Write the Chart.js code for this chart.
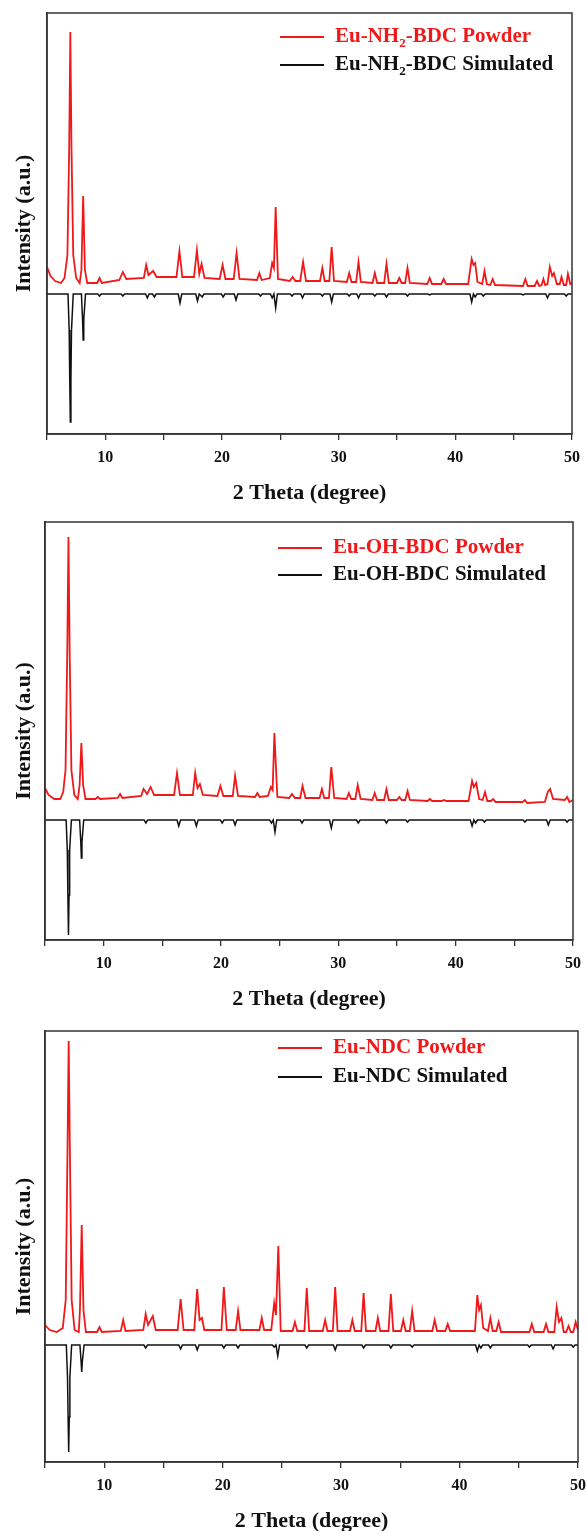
<!DOCTYPE html>
<html>
<head>
<meta charset="utf-8">
<script src="https://cdn.jsdelivr.net/npm/chart.js@4.4.0/dist/chart.umd.min.js"></script>
<style>
html, body { margin: 0; padding: 0; background: #fff; overflow: hidden; width: 587px; height: 1531px; }
.panel { position: absolute; left: 0; width: 587px; }
</style>
</head>
<body>
<div class="panel" style="top:0px"><canvas id="c1" width="587" height="510"></canvas></div>
<div class="panel" style="top:510px"><canvas id="c2" width="587" height="506"></canvas></div>
<div class="panel" style="top:1016px"><canvas id="c3" width="587" height="522"></canvas></div>
<script>
// x axis labels (2 theta, degree)
const xTickLabels = [10, 20, 30, 40, 50];

// Eu-NH2-BDC
const nh2PowderTheta = [5.0, 5.3, 5.7, 6.2, 6.5, 6.75, 6.9, 7.0, 7.1, 7.25, 7.5, 7.8, 7.95, 8.1, 8.25, 8.45,
  9.3, 9.5, 9.7, 11.2, 11.5, 11.8, 13.3, 13.5, 13.7, 14.1, 14.4, 16.1, 16.35, 16.6,
  17.6, 17.85, 18.05, 18.25, 18.5, 19.8, 20.05, 20.3, 21.0, 21.25, 21.5, 23.0, 23.2, 23.4,
  24.1, 24.3, 24.45, 24.6, 24.8, 25.8, 26.05, 26.3, 26.7, 26.95, 27.2, 28.4, 28.6, 28.8,
  29.2, 29.4, 29.6, 30.7, 30.9, 31.1, 31.5, 31.7, 31.9, 32.9, 33.1, 33.3, 33.9, 34.1, 34.3,
  35.0, 35.2, 35.4, 35.7, 35.9, 36.1, 37.6, 37.8, 38.0, 38.8, 39.0, 39.2,
  41.1, 41.4, 41.55, 41.7, 41.9, 42.3, 42.5, 42.7, 43.0, 43.2, 43.4, 45.8, 46.0, 46.2,
  46.8, 47.0, 47.2, 47.4, 47.55, 47.7, 47.9, 48.1, 48.3, 48.45, 48.7, 48.95, 49.1, 49.3,
  49.5, 49.65, 49.85, 50.0];
const nh2PowderInt = [167, 158, 153, 151, 156, 179, 284, 402, 284, 179, 156, 151, 164, 238, 164, 151,
  151, 156, 151, 154, 162, 155, 156, 169, 159, 163, 157, 157, 183, 157,
  157, 184, 160, 170, 156, 155, 169, 155, 155, 181, 155, 154, 161, 154,
  156, 171, 166, 227, 155, 153, 157, 153, 153, 172, 153, 153, 166, 153,
  153, 187, 153, 152, 161, 152, 152, 172, 152, 151, 161, 151, 151, 170, 151,
  151, 156, 151, 151, 166, 151, 150, 156, 150, 150, 155, 150,
  150, 175, 169, 171, 152, 150, 163, 150, 149, 155, 149, 148, 155, 148,
  148, 153, 148, 149, 155, 149, 150, 167, 158, 161, 150, 150, 157, 149,
  149, 160, 150, 151];
const nh2SimTheta = [5.0, 6.8, 6.9, 6.95, 7.0, 7.05, 7.1, 7.25, 7.95, 8.05, 8.1, 8.15, 8.3,
  9.35, 9.5, 9.65, 11.35, 11.5, 11.65, 13.45, 13.6, 13.75, 14.05, 14.2, 14.35,
  16.25, 16.4, 16.55, 17.75, 17.9, 18.05, 18.3, 18.45, 19.95, 20.1, 20.25, 21.05, 21.2, 21.35,
  23.15, 23.3, 23.45, 24.15, 24.3, 24.45, 24.6, 24.75, 25.85, 26.0, 26.15, 26.75, 26.9, 27.05,
  28.45, 28.6, 28.75, 29.25, 29.4, 29.55, 30.75, 30.9, 31.05, 31.55, 31.7, 31.85,
  32.95, 33.1, 33.25, 33.95, 34.1, 34.25, 35.75, 35.9, 36.05, 37.65, 37.8, 37.95,
  41.25, 41.4, 41.55, 41.7, 41.85, 42.25, 42.4, 42.55, 45.65, 45.8, 45.95,
  47.75, 47.9, 48.05, 49.35, 49.5, 49.65, 50.0];
const nh2SimInt = [140, 140, 104, 54, 12, 54, 104, 140, 140, 114, 94, 114, 140,
  140, 138, 140, 140, 138, 140, 140, 136, 140, 140, 137, 140,
  140, 131, 140, 140, 133, 140, 137, 140, 140, 137, 140, 140, 134, 140,
  140, 138, 140, 140, 136, 140, 126, 140, 140, 138, 140, 140, 136, 140,
  140, 138, 140, 140, 132, 140, 140, 138, 140, 140, 136, 140,
  140, 138, 140, 140, 137, 140, 140, 138, 140, 140, 139, 140,
  140, 132, 140, 137, 140, 140, 138, 140, 140, 139, 140,
  140, 136, 140, 140, 138, 140, 140];

// Eu-OH-BDC
const ohPowderTheta = [5.0, 5.3, 5.8, 6.3, 6.55, 6.75, 6.9, 7.0, 7.1, 7.25, 7.5, 7.8, 7.95, 8.1, 8.25, 8.45,
  9.3, 9.5, 9.7, 11.2, 11.4, 11.6, 13.2, 13.4, 13.7, 14.0, 14.3, 16.0, 16.25, 16.5,
  17.6, 17.8, 18.0, 18.2, 18.45, 19.7, 19.95, 20.2, 21.0, 21.2, 21.45, 22.9, 23.1, 23.3,
  24.0, 24.25, 24.4, 24.55, 24.8, 25.8, 26.05, 26.3, 26.75, 26.95, 27.2, 28.4, 28.6, 28.8,
  29.2, 29.4, 29.65, 30.7, 30.9, 31.1, 31.45, 31.65, 31.9, 32.9, 33.1, 33.3, 33.9, 34.1, 34.3,
  35.0, 35.2, 35.4, 35.7, 35.9, 36.1, 37.6, 37.8, 38.0, 38.8, 39.0, 39.2,
  41.1, 41.4, 41.55, 41.75, 42.0, 42.3, 42.5, 42.7, 43.0, 43.2, 43.4, 45.7, 45.9, 46.1,
  47.6, 47.85, 48.05, 48.3, 49.3, 49.5, 49.7, 50.0];
const ohPowderInt = [152, 145, 141, 141, 148, 170, 290, 403, 290, 170, 145, 141, 155, 197, 155, 141,
  141, 143, 141, 142, 146, 142, 144, 151, 146, 153, 145, 145, 167, 145,
  145, 167, 152, 156, 145, 144, 154, 144, 144, 164, 144, 143, 147, 143,
  144, 153, 150, 207, 143, 142, 146, 142, 142, 154, 142, 142, 151, 142,
  142, 173, 142, 141, 147, 141, 141, 155, 141, 140, 147, 140, 140, 151, 140,
  140, 143, 140, 140, 149, 140, 139, 141, 139, 139, 140, 139,
  139, 159, 153, 157, 141, 140, 148, 139, 139, 141, 138, 138, 140, 137,
  138, 148, 151, 141, 140, 143, 138, 140];
const ohSimTheta = [5.0, 6.8, 6.9, 6.95, 7.0, 7.05, 7.1, 7.25, 7.95, 8.05, 8.1, 8.15, 8.3,
  13.45, 13.6, 13.75, 16.25, 16.4, 16.55, 17.75, 17.9, 18.05, 19.95, 20.1, 20.25,
  21.05, 21.2, 21.35, 24.15, 24.3, 24.45, 24.6, 24.75, 26.75, 26.9, 27.05,
  29.25, 29.4, 29.55, 31.55, 31.7, 31.85, 33.95, 34.1, 34.25, 35.75, 35.9, 36.05,
  41.25, 41.4, 41.55, 41.7, 41.85, 42.3, 42.45, 42.6, 45.75, 45.9, 46.05,
  47.75, 47.9, 48.05, 49.35, 49.5, 49.65, 50.0];
const ohSimInt = [120, 120, 90, 45, 5, 45, 90, 120, 120, 98, 82, 98, 120,
  120, 117, 120, 120, 114, 120, 120, 114, 120, 120, 117, 120,
  120, 115, 120, 120, 117, 120, 108, 120, 120, 117, 120,
  120, 112, 120, 120, 117, 120, 120, 117, 120, 120, 118, 120,
  120, 114, 120, 117, 120, 120, 118, 120, 120, 118, 120,
  120, 115, 120, 120, 118, 120, 120];

// Eu-NDC
const ndcPowderTheta = [5.0, 5.4, 6.0, 6.5, 6.75, 6.9, 7.0, 7.1, 7.25, 7.5, 7.85, 7.95, 8.1, 8.25, 8.45,
  9.4, 9.6, 9.8, 11.4, 11.6, 11.8, 13.3, 13.5, 13.7, 14.1, 14.35, 16.2, 16.45, 16.7,
  17.6, 17.85, 18.05, 18.25, 18.45, 19.9, 20.1, 20.35, 21.1, 21.3, 21.5, 23.1, 23.3, 23.5,
  24.1, 24.35, 24.5, 24.7, 24.9, 25.9, 26.1, 26.3, 26.9, 27.1, 27.3, 28.45, 28.65, 28.85,
  29.3, 29.5, 29.7, 30.75, 30.95, 31.15, 31.7, 31.9, 32.1, 32.9, 33.1, 33.3, 34.0, 34.2, 34.4,
  35.05, 35.25, 35.45, 35.8, 36.0, 36.2, 37.7, 37.9, 38.1, 38.8, 39.0, 39.2,
  41.3, 41.5, 41.65, 41.8, 42.0, 42.4, 42.6, 42.8, 43.1, 43.3, 43.5, 45.9, 46.1, 46.3,
  47.1, 47.3, 47.5, 48.0, 48.2, 48.4, 48.6, 48.8, 49.0, 49.2, 49.4, 49.6, 49.8, 50.0];
const ndcPowderInt = [137, 132, 130, 134, 162, 312, 421, 312, 162, 132, 130, 152, 237, 152, 130,
  130, 135, 130, 131, 142, 131, 132, 148, 137, 146, 132, 132, 163, 132,
  132, 173, 142, 144, 132, 132, 175, 132, 132, 151, 132, 132, 144, 132,
  132, 159, 147, 216, 131, 131, 140, 131, 131, 174, 131, 131, 142, 131,
  131, 175, 131, 131, 142, 131, 131, 169, 131, 131, 144, 131, 131, 168, 131,
  131, 142, 131, 131, 151, 131, 131, 142, 131, 131, 138, 131,
  131, 167, 152, 157, 134, 131, 144, 131, 131, 140, 130, 130, 138, 130,
  130, 138, 130, 130, 155, 140, 144, 130, 130, 136, 130, 130, 140, 132];
const ndcSimTheta = [5.0, 6.8, 6.9, 6.95, 7.0, 7.05, 7.1, 7.25, 7.95, 8.05, 8.1, 8.15, 8.3,
  13.35, 13.5, 13.65, 16.3, 16.45, 16.6, 17.7, 17.85, 18.0, 19.95, 20.1, 20.25,
  21.15, 21.3, 21.45, 24.2, 24.35, 24.5, 24.65, 24.8, 26.95, 27.1, 27.25,
  29.35, 29.5, 29.65, 31.75, 31.9, 32.05, 34.05, 34.2, 34.35, 35.85, 36.0, 36.15,
  41.35, 41.5, 41.65, 41.8, 41.95, 42.45, 42.6, 42.75, 45.75, 45.9, 46.05,
  47.75, 47.9, 48.05, 49.45, 49.6, 49.75, 50.0];
const ndcSimInt = [117, 117, 85, 45, 10, 45, 85, 117, 117, 100, 90, 100, 117,
  117, 114, 117, 117, 113, 117, 117, 112, 117, 117, 114, 117,
  117, 114, 117, 117, 115, 117, 106, 117, 117, 114, 117,
  117, 112, 117, 117, 114, 117, 117, 114, 117, 117, 115, 117,
  117, 111, 117, 114, 117, 117, 114, 117, 117, 115, 117,
  117, 113, 117, 117, 115, 117, 117];

const serif = '"Liberation Serif", "Times New Roman", serif';
const red = '#f01818';
const ink = '#111';

function zip(xs, ys) {
  return xs.map((x, i) => ({ x: x, y: ys[i] }));
}

// draw text, turning "₂" into a real lowered subscript
function drawLabel(ctx, text, x, y, size) {
  const parts = text.split('₂');
  let cx = x;
  parts.forEach((p, i) => {
    ctx.font = 'bold ' + size + 'px ' + serif;
    ctx.fillText(p, cx, y);
    cx += ctx.measureText(p).width;
    if (i < parts.length - 1) {
      ctx.font = 'bold ' + Math.round(size * 0.62) + 'px ' + serif;
      ctx.fillText('2', cx, y + size * 0.3);
      cx += ctx.measureText('2').width;
    }
  });
}

const framePlugin = {
  id: 'frame',
  afterDraw(chart) {
    const a = chart.chartArea;
    const ctx = chart.ctx;
    ctx.save();
    ctx.strokeStyle = '#333';
    ctx.lineWidth = 1.5;
    ctx.strokeRect(a.left, a.top, a.right - a.left, a.bottom - a.top);
    ctx.restore();
  }
};

const xrdLegend = {
  id: 'xrdLegend',
  afterDraw(chart, args, opts) {
    const a = chart.chartArea;
    const ctx = chart.ctx;
    ctx.save();
    ctx.textBaseline = 'middle';
    chart.data.datasets.forEach((ds, i) => {
      const y = a.top + opts.rows[i];
      const x0 = a.left + 233;
      ctx.strokeStyle = ds.borderColor;
      ctx.lineWidth = 1.8;
      ctx.beginPath();
      ctx.moveTo(x0, y);
      ctx.lineTo(x0 + 44, y);
      ctx.stroke();
      ctx.fillStyle = ds.borderColor;
      drawLabel(ctx, ds.label, x0 + 55, y, 21);
    });
    ctx.restore();
  }
};

const panels = [
  { id: 'c1', powder: 'Eu-NH₂-BDC Powder', sim: 'Eu-NH₂-BDC Simulated',
    pT: nh2PowderTheta, pI: nh2PowderInt, sT: nh2SimTheta, sI: nh2SimInt,
    yMax: 421, padTop: 13, padRight: 15, yWidth: 47, rows: [24, 52] },
  { id: 'c2', powder: 'Eu-OH-BDC Powder', sim: 'Eu-OH-BDC Simulated',
    pT: ohPowderTheta, pI: ohPowderInt, sT: ohSimTheta, sI: ohSimInt,
    yMax: 418, padTop: 12, padRight: 14, yWidth: 45, rows: [26, 53] },
  { id: 'c3', powder: 'Eu-NDC Powder', sim: 'Eu-NDC Simulated',
    pT: ndcPowderTheta, pI: ndcPowderInt, sT: ndcSimTheta, sI: ndcSimInt,
    yMax: 431, padTop: 15, padRight: 9, yWidth: 45, rows: [17, 46] }
];

panels.forEach(p => {
  const ctx = document.getElementById(p.id).getContext('2d');
  new Chart(ctx, {
    type: 'line',
    data: {
      datasets: [{
        label: p.powder,
        data: zip(p.pT, p.pI),
        borderColor: red,
        borderWidth: 1.8,
        pointRadius: 0,
        tension: 0
      }, {
        label: p.sim,
        data: zip(p.sT, p.sI),
        borderColor: ink,
        borderWidth: 1.5,
        pointRadius: 0,
        tension: 0
      }]
    },
    options: {
      responsive: false,
      animation: false,
      devicePixelRatio: 1,
      layout: { padding: { top: p.padTop, right: p.padRight, left: 0, bottom: 0 } },
      plugins: {
        legend: { display: false },
        tooltip: { enabled: false },
        xrdLegend: { rows: p.rows }
      },
      scales: {
        x: {
          type: 'linear',
          min: 5,
          max: 50,
          afterFit: scale => {
            scale.height = 76;
            scale.paddingLeft = 0;
            scale.paddingRight = 0;
          },
          ticks: {
            stepSize: 5,
            autoSkip: false,
            maxRotation: 0,
            padding: 8,
            color: ink,
            font: { family: serif, size: 16, weight: 'bold' },
            callback: v => xTickLabels.includes(v) ? String(v) : ''
          },
          grid: { drawOnChartArea: false, drawTicks: true, tickLength: 6, color: '#333', lineWidth: 1.3 },
          border: { display: true, color: '#333', width: 1.5 },
          title: {
            display: true,
            text: '2 Theta (degree)',
            color: ink,
            font: { family: serif, size: 22, weight: 'bold' },
            padding: { top: 0, bottom: 3 }
          }
        },
        y: {
          min: 0,
          max: p.yMax,
          afterFit: scale => { scale.width = p.yWidth; },
          ticks: { display: false },
          grid: { display: false },
          border: { display: true, color: '#333', width: 1.5 },
          title: {
            display: true,
            text: 'Intensity (a.u.)',
            color: ink,
            font: { family: serif, size: 22, weight: 'bold' },
            padding: { top: 11, bottom: 0 }
          }
        }
      }
    },
    plugins: [framePlugin, xrdLegend]
  });
});
</script>
</body>
</html>
